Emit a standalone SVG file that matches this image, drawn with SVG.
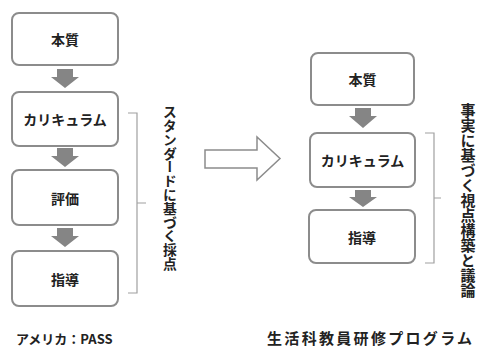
<svg xmlns="http://www.w3.org/2000/svg" width="483" height="349" viewBox="0 0 483 349">
<style>
.box{fill:#fff;stroke:#8c8c8c;stroke-width:2}
.lbl{font-family:"Noto Sans CJK JP","Noto Sans CJK SC",sans-serif;font-weight:bold;font-size:14px;fill:#222;text-anchor:middle;dominant-baseline:central}
.vt{font-family:"Noto Sans CJK JP","Noto Sans CJK SC",sans-serif;font-weight:bold;fill:#222;writing-mode:vertical-rl;text-anchor:start}
.dn{fill:#858585}
.br{fill:none;stroke:#a0a0a0;stroke-width:1.2}
.cap{font-family:"Noto Sans CJK JP","Noto Sans CJK SC",sans-serif;font-weight:bold;fill:#222}
</style>
<rect width="483" height="349" fill="#fff"/>
<g id="left-honshitsu"><rect class="box" x="12" y="13" width="106" height="52" rx="7"/><text class="lbl" x="65" y="39">本質</text></g>
<g id="left-curriculum"><rect class="box" x="12" y="92" width="106" height="54" rx="7"/><text class="lbl" x="65" y="119">カリキュラム</text></g>
<g id="left-hyoka"><rect class="box" x="12" y="170" width="106" height="55" rx="7"/><text class="lbl" x="65" y="197.5">評価</text></g>
<g id="left-shido"><rect class="box" x="12" y="251" width="106" height="55" rx="7"/><text class="lbl" x="65" y="278.5">指導</text></g>
<g id="right-honshitsu"><rect class="box" x="311" y="53" width="103" height="52" rx="7"/><text class="lbl" x="362.5" y="79">本質</text></g>
<g id="right-curriculum"><rect class="box" x="310" y="133" width="105" height="54" rx="7"/><text class="lbl" x="362.5" y="160">カリキュラム</text></g>
<g id="right-shido"><rect class="box" x="309" y="210" width="106" height="53" rx="7"/><text class="lbl" x="362" y="236.5">指導</text></g>
<g id="connectors">
<path class="dn" d="M57,69 H73 V77 H79 L65,88 L51,77 H57 Z"/>
<path class="dn" d="M57,148 H73 V156 H79 L65,167 L51,156 H57 Z"/>
<path class="dn" d="M57,228 H73 V236 H79 L65,247 L51,236 H57 Z"/>
<path class="dn" d="M355,108 H371 V116 H377 L363,128 L349,116 H355 Z"/>
<path class="dn" d="M355,190 H371 V197 H377 L363,207 L349,197 H355 Z"/>
<path d="M205,150 H257 V137 L280,158.5 L257,180 V168 H205 Z" fill="#fff" stroke="#8c8c8c" stroke-width="1.5"/>
<path class="br" d="M128,113 H137 V293 H128 M137,203 H146"/>
<path class="br" d="M425,133 H434 V263 H425 M434,198 H441"/>
</g>
<text class="vt" x="170" y="105" font-size="13.8">スタンダードに基づく採点</text>
<text class="vt" x="468" y="103" font-size="15">事実に基づく視点構築と議論</text>
<text class="cap" x="16" y="344" font-size="13">アメリカ：PASS</text>
<text class="cap" x="267" y="344" font-size="15" textLength="205" lengthAdjust="spacing">生活科教員研修プログラム</text>
</svg>
